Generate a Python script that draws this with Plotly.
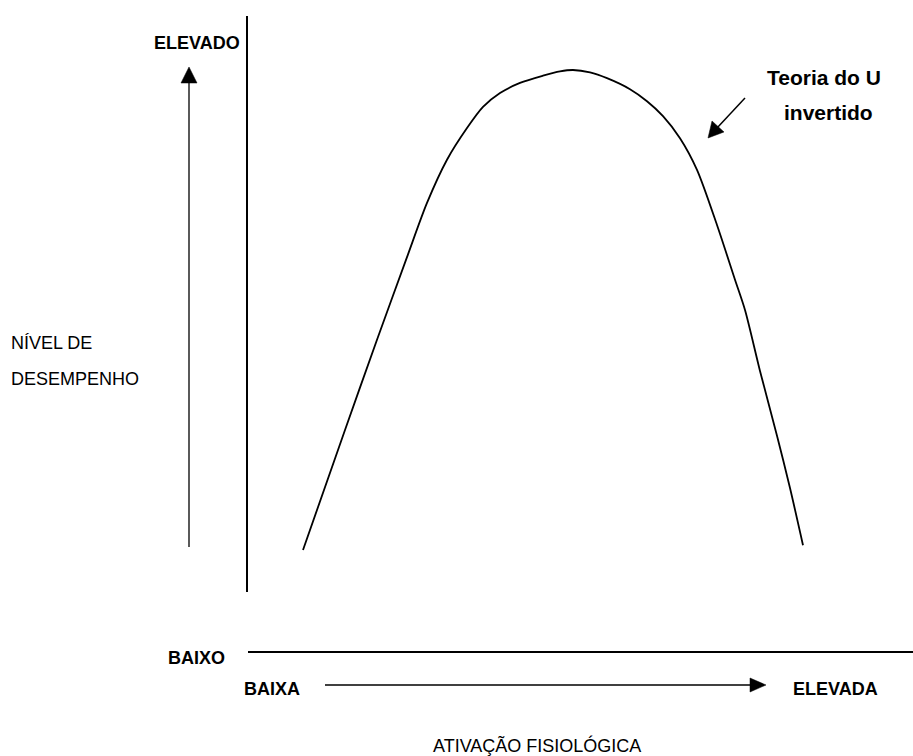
import plotly.graph_objects as go

# Curve data: physiological activation (0-100) vs performance level (0-100)
arousal = [0, 8.4, 14.8, 20.8, 24.8, 28.8, 32.8, 36, 39.4, 43.4, 48, 51.4, 54,
           57.4, 60.8, 65.4, 68.8, 72, 75.4, 78.8, 82.8, 86.4, 88.4, 91.4, 94.8, 97.4, 100]
performance = [0, 25, 43.8, 61, 72.3, 81.3, 87.9, 92.3, 95.2, 97.3, 98.8, 99.7, 100,
               99.5, 98.3, 96, 93.5, 90.4, 85.8, 79.2, 67.7, 56.3, 50, 37.3, 23.8, 12.9, 1]

# Text labels
y_title = ["NÍVEL DE", "DESEMPENHO"]
y_high, y_low = "ELEVADO", "BAIXO"
x_low, x_high = "BAIXA", "ELEVADA"
x_title = "ATIVAÇÃO FISIOLÓGICA"
curve_label = ["Teoria do U", "invertido"]

W, H = 913, 756
FONT = "Arial, Liberation Sans, sans-serif"


def px(x):
    return x / W


def py(y):
    return 1 - y / H


fig = go.Figure()
fig.add_trace(go.Scatter(
    x=arousal, y=performance, mode="lines",
    line=dict(color="black", width=1.8, shape="spline", smoothing=0.8),
    hoverinfo="skip", showlegend=False,
))

shapes = []


def seg(x0, y0, x1, y1, w):
    shapes.append(dict(type="line", xref="paper", yref="paper",
                       x0=px(x0), y0=py(y0), x1=px(x1), y1=py(y1),
                       line=dict(color="black", width=w)))


def tri(pts):
    d = "M " + " L ".join(f"{px(a):.5f},{py(b):.5f}" for a, b in pts) + " Z"
    shapes.append(dict(type="path", xref="paper", yref="paper", path=d,
                       fillcolor="black", line=dict(color="black", width=0.5)))


# vertical axis line
seg(247, 16, 247, 592, 2)
# up arrow
seg(189, 547, 189, 80, 1.3)
tri([(189, 67), (181, 83), (197, 83)])
# horizontal axis line
seg(248, 652, 913, 652, 2)
# right arrow
seg(325, 685, 752, 685, 1.3)
tri([(766, 685), (750, 678), (750, 692)])
# small pointer arrow
seg(745, 98, 717, 128, 1.5)
tri([(708, 138), (712, 121), (724, 132)])

ann = []


def txt(x, y, s, size=18, bold=False, anchor="center"):
    ann.append(dict(xref="paper", yref="paper", x=px(x), y=py(y), text=(f"<b>{s}</b>" if bold else s),
                    showarrow=False, xanchor=anchor, yanchor="middle",
                    font=dict(family=FONT, size=size, color="black")))


txt(196.5, 43, y_high, bold=True)
txt(196, 658, y_low, bold=True)
txt(272, 689, x_low, bold=True)
txt(835, 689, x_high, bold=True)
txt(9, 343, y_title[0], anchor="left")
txt(9, 379, y_title[1], anchor="left")
txt(537, 745, x_title)
txt(824, 77, curve_label[0], size=21, bold=True)
txt(828, 112, curve_label[1], size=21, bold=True)

# map data to pixel frame: arousal 0 -> x=303, 100 -> x=803; performance 0 -> y=550, 100 -> y=70
fig.update_layout(
    width=W, height=H,
    margin=dict(l=0, r=0, t=0, b=0),
    paper_bgcolor="white", plot_bgcolor="white",
    xaxis=dict(range=[-60.6, 122.0], visible=False, fixedrange=True),
    yaxis=dict(range=[-42.92, 114.58], visible=False, fixedrange=True),
    shapes=shapes, annotations=ann, showlegend=False,
)

fig.write_html("out.html", config={"displayModeBar": False},
               post_script="document.body.style.margin='0px';document.body.style.overflow='hidden';")
